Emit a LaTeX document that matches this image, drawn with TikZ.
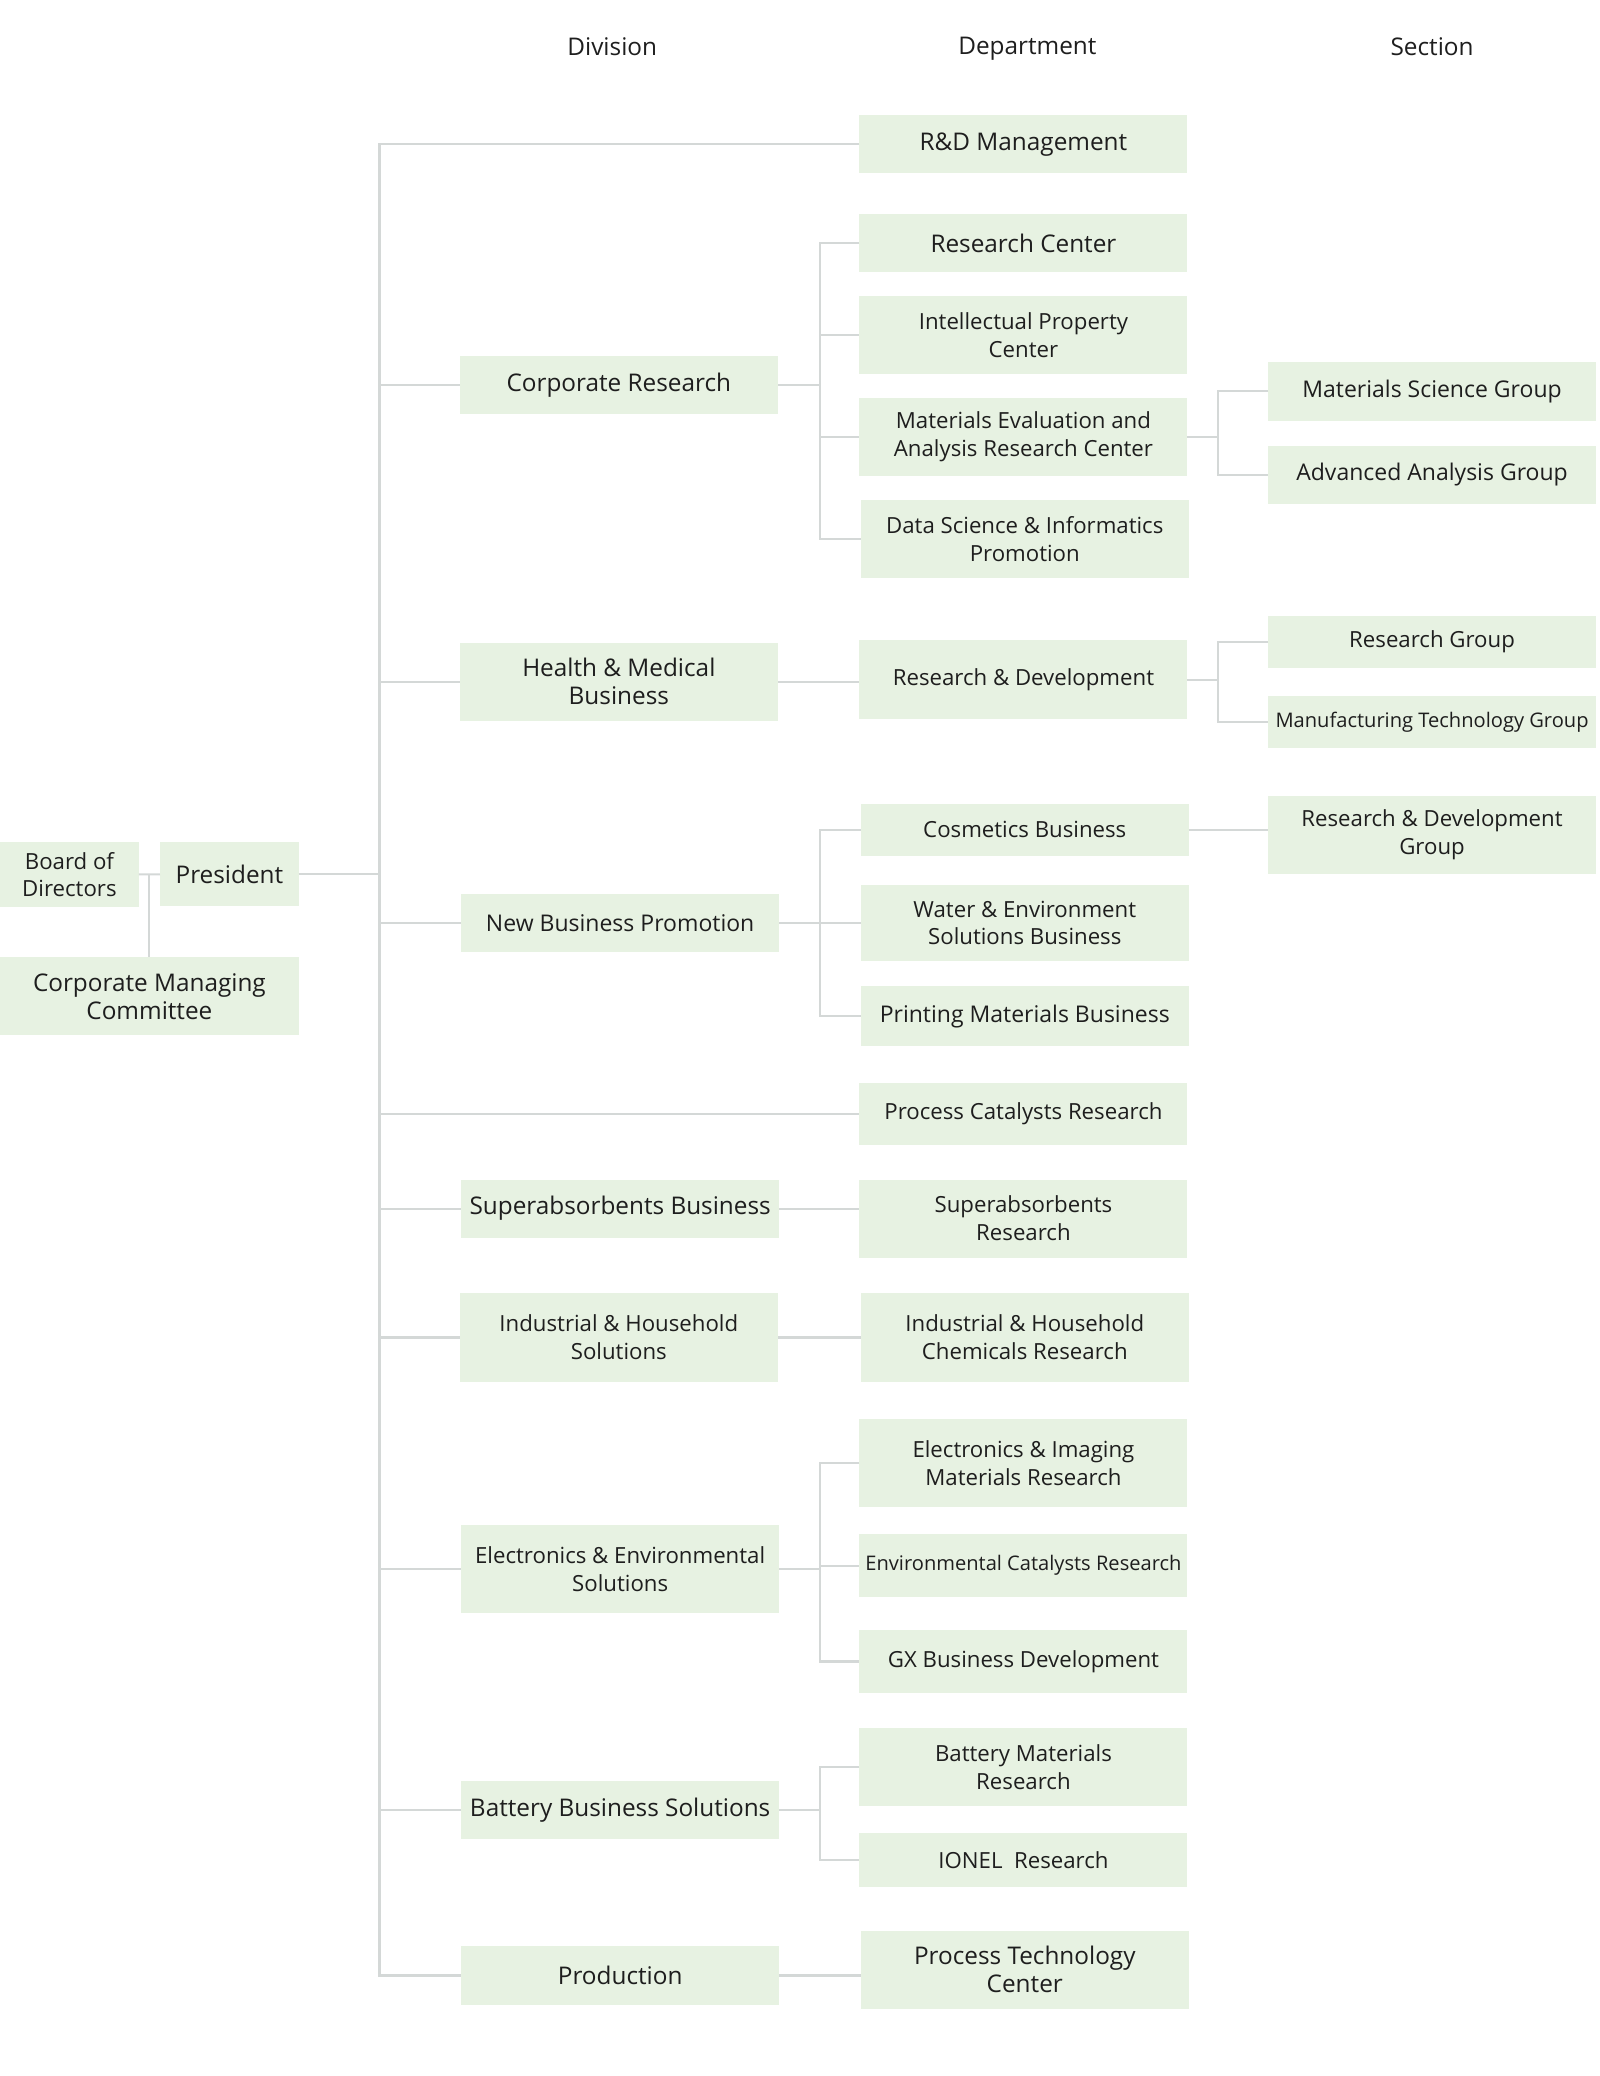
\documentclass[tikz,border=0pt]{standalone}
\usepackage{fontspec}
\setmainfont{Open Sans}
\usepackage{xcolor}
\definecolor{mygreen}{HTML}{E7F2E2}
\definecolor{mygray}{HTML}{D4D8D7}
\definecolor{myink}{HTML}{1E1E1E}
\newcommand{\fontL}{\fontsize{9.2}{10.5}\selectfont}
\newcommand{\fontLs}{\fontsize{8.7}{10.5}\selectfont}
\newcommand{\fontM}{\fontsize{8.4}{10.5}\selectfont}
\newcommand{\fontS}{\fontsize{7.6}{10.5}\selectfont}
\tikzset{
  box/.style={fill=mygreen,text=myink,align=center,inner sep=0pt,outer sep=0pt,font=\fontL},
  node div/.style={box,minimum width=120.5pt},
  node dept/.style={box,minimum width=124pt},
  node sect/.style={box,minimum width=124pt},
  node head/.style={text=myink,font=\fontL},
  txt L/.style={font=\fontLs},
  txt M/.style={font=\fontM},
  txt S/.style={font=\fontS},
  connect/.style={draw=mygray,line width=0.8pt}
}

\begin{document}
\begin{tikzpicture}[x=0.5pt,y=-0.5pt]
    \useasboundingbox (0,0) rectangle (1210,1570);

    % column heads
    \node[node head] (hdiv) at (463,35) {Division};
    \node[node head] (hdept) at (777,37) {Department};
    \node[node head] (hsect) at (1083,35) {Section};

    % top management
    \node[box,txt M,minimum width=52.5pt,minimum height=24.5pt] (board) at (52.5,661.5) {Board of\\Directors};
    \node[box,minimum width=52.5pt,minimum height=24pt] (pres) at (173.5,661) {President};
    \node[box,minimum width=113pt,minimum height=29.5pt] (cmc) at (113,753.5) {Corporate Managing\\Committee};

    % divisions
    \node[node div,minimum height=22pt] (corpres) at (468,291) {Corporate Research};
    \node[node div,minimum height=29.5pt] (health) at (468,515.5) {Health \& Medical\\Business};
    \node[node div,txt L,minimum height=22pt] (newbiz) at (469,698) {New Business Promotion};
    \node[node div,minimum height=22pt] (superabs) at (469,914) {Superabsorbents Business};
    \node[node div,txt M,minimum height=33.5pt] (industrial) at (468,1011.5) {Industrial \& Household\\Solutions};
    \node[node div,txt M,minimum height=33.5pt] (electronics) at (469,1186.5) {Electronics \& Environmental\\Solutions};
    \node[node div,minimum height=22pt] (battery) at (469,1369) {Battery Business Solutions};
    \node[node div,minimum height=22pt] (production) at (469,1494) {Production};

    % departments
    \node[node dept,minimum height=22pt] (rdmgmt) at (774,109) {R\&D Management};
    \node[node dept,minimum height=22pt] (rescenter) at (774,184) {Research Center};
    \node[node dept,txt M,minimum height=29.5pt] (ipc) at (774,253.5) {Intellectual Property\\Center};
    \node[node dept,txt M,minimum height=29.5pt] (mateval) at (774,330.5) {Materials Evaluation and\\Analysis Research Center};
    \node[node dept,txt M,minimum height=29.5pt] (datasci) at (775,407.5) {Data Science \& Informatics\\Promotion};
    \node[node dept,txt M,minimum height=30pt] (rnd) at (774,514) {Research \& Development};
    \node[node dept,txt M,minimum height=19.5pt] (cosmetics) at (775,627.5) {Cosmetics Business};
    \node[node dept,txt M,minimum height=29pt] (water) at (775,698) {Water \& Environment\\Solutions Business};
    \node[node dept,txt L,minimum height=22.5pt] (printing) at (775,768.5) {Printing Materials Business};
    \node[node dept,txt M,minimum height=23.5pt] (proccat) at (774,842.5) {Process Catalysts Research};
    \node[node dept,txt M,minimum height=29.5pt] (superres) at (774,921.5) {Superabsorbents\\Research};
    \node[node dept,txt M,minimum height=33.5pt] (indchem) at (775,1011.5) {Industrial \& Household\\Chemicals Research};
    \node[node dept,txt M,minimum height=33.5pt] (elecimg) at (774,1106.5) {Electronics \& Imaging\\Materials Research};
    \node[node dept,txt S,minimum height=24pt] (envcat) at (774,1184) {Environmental Catalysts Research};
    \node[node dept,txt M,minimum height=23.5pt] (gx) at (774,1256.5) {GX Business Development};
    \node[node dept,txt M,minimum height=29.5pt] (battmat) at (774,1336.5) {Battery Materials\\Research};
    \node[node dept,txt M,minimum height=20.5pt] (ionel) at (774,1406.5) {IONEL\ \ Research};
    \node[node dept,minimum height=29.5pt] (proctech) at (775,1489.5) {Process Technology\\Center};

    % sections
    \node[node sect,txt L,minimum height=22pt] (matsci) at (1083,296) {Materials Science Group};
    \node[node sect,txt L,minimum height=22pt] (advanal) at (1083,359) {Advanced Analysis Group};
    \node[node sect,txt M,minimum height=19.5pt] (resgroup) at (1083,485.5) {Research Group};
    \node[node sect,txt S,minimum height=20pt] (mfgtech) at (1083,546) {Manufacturing Technology Group};
    \node[node sect,txt M,minimum height=29.5pt] (rdgroup) at (1083,631.5) {Research \& Development\\Group};

    % bus lines
    \coordinate (bus0) at (287,0);
    \coordinate (bus1) at (620,0);
    \coordinate (bus2) at (921,0);

    \draw[connect] (board) -- (pres);
    \draw[connect] (board.east -| cmc.north) -- (cmc.north);
    \draw[connect] (pres) -- (pres -| bus0);
    \draw[connect] (rdmgmt.west) -| (bus0 |- production.west) -- (production.west);
    \foreach \n in {corpres,health,newbiz,proccat,superabs,industrial,electronics,battery}
        \draw[connect] (\n.west -| bus0) -- (\n.west);

    \draw[connect] (corpres) -- (corpres -| bus1);
    \draw[connect] (rescenter.west) -| (bus1 |- datasci.west) -- (datasci.west);
    \draw[connect] (bus1 |- ipc.west) -- (ipc.west);
    \draw[connect] (bus1 |- mateval.west) -- (mateval.west);
    \draw[connect] (mateval) -- (mateval -| bus2);
    \draw[connect] (matsci.west) -| (bus2 |- advanal.west) -- (advanal.west);

    \draw[connect] (health) -- (health -| rnd.west);
    \draw[connect] (rnd) -- (rnd -| bus2);
    \draw[connect] (resgroup.west) -| (bus2 |- mfgtech.west) -- (mfgtech.west);

    \draw[connect] (newbiz) -- (newbiz -| bus1);
    \draw[connect] (cosmetics.west) -| (bus1 |- printing.west) -- (printing.west);
    \draw[connect] (bus1 |- water.west) -- (water.west);
    \draw[connect] (cosmetics) -- (cosmetics -| rdgroup.west);

    \draw[connect] (superabs) -- (superabs -| superres.west);
    \draw[connect] (industrial) -- (industrial -| indchem.west);

    \draw[connect] (electronics) -- (electronics -| bus1);
    \draw[connect] (elecimg.west) -| (bus1 |- gx.west) -- (gx.west);
    \draw[connect] (bus1 |- envcat.west) -- (envcat.west);

    \draw[connect] (battery) -- (battery -| bus1);
    \draw[connect] (battmat.west) -| (bus1 |- ionel.west) -- (ionel.west);

    \draw[connect] (production) -- (production -| proctech.west);
\end{tikzpicture}
\end{document}
